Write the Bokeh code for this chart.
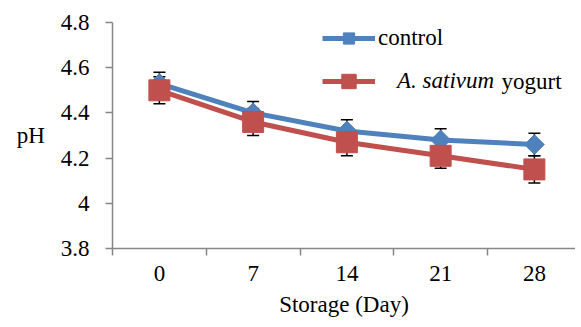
from bokeh.plotting import figure
from bokeh.models import (FixedTicker, Legend, LegendItem, Whisker, ColumnDataSource,
                          TeeHead, Label)
from bokeh.embed import file_html
from bokeh.resources import INLINE
import math

days = ["0", "7", "14", "21", "28"]
control = [4.53, 4.40, 4.32, 4.28, 4.26]
control_err = [0.05, 0.05, 0.05, 0.05, 0.05]
yogurt = [4.50, 4.36, 4.27, 4.21, 4.15]
yogurt_err = [0.06, 0.06, 0.06, 0.055, 0.06]
y_ticks = [3.8, 4.0, 4.2, 4.4, 4.6, 4.8]
y_tick_labels = ["3.8", "4", "4.2", "4.4", "4.6", "4.8"]

xs = list(range(len(days)))
FONT = "Liberation Serif"
FS = "23px"
BLUE = "#4F81BD"
RED = "#C0504D"
GRAY = "#868686"

W, H = 575, 319
LEFT, TOP, BOTTOM = 112, 22, 250
p = figure(width=W, height=H, output_backend="svg", toolbar_location=None,
           x_range=(-0.5, -0.5 + (W - LEFT) / 93.75), y_range=(3.8, 4.8),
           min_border_left=LEFT, min_border_right=0, min_border_top=TOP,
           min_border_bottom=H - BOTTOM)
p.outline_line_color = None
p.xgrid.visible = False
p.ygrid.visible = False

src_c = ColumnDataSource(dict(x=xs, y=control,
                              lo=[v - e for v, e in zip(control, control_err)],
                              hi=[v + e for v, e in zip(control, control_err)]))
src_y = ColumnDataSource(dict(x=xs, y=yogurt,
                              lo=[v - e for v, e in zip(yogurt, yogurt_err)],
                              hi=[v + e for v, e in zip(yogurt, yogurt_err)]))

for src in (src_c, src_y):
    w = Whisker(source=src, base="x", lower="lo", upper="hi", dimension="height",
                line_color="black", line_width=1.5,
                upper_head=TeeHead(size=12, line_color="black", line_width=1.5),
                lower_head=TeeHead(size=12, line_color="black", line_width=1.5),
                level="underlay")
    p.add_layout(w)

lc = p.line("x", "y", source=src_c, line_color=BLUE, line_width=5)
mc = p.scatter("x", "y", source=src_c, marker="square", angle=math.pi / 4, size=14,
               fill_color=BLUE, line_color=BLUE)
ly = p.line("x", "y", source=src_y, line_color=RED, line_width=5)
my = p.scatter("x", "y", source=src_y, marker="square", size=21,
               fill_color=RED, line_color=RED)

leg1 = Legend(items=[LegendItem(label="control", renderers=[lc, mc])],
              location=(210, 196), glyph_width=53, glyph_height=28, label_standoff=3,
              padding=0, margin=0, border_line_color=None, background_fill_alpha=0,
              label_text_font=FONT, label_text_font_size=FS, label_text_color="black")
leg2 = Legend(items=[LegendItem(label="A. sativum", renderers=[ly, my])],
              location=(210, 149), glyph_width=53, glyph_height=36, label_standoff=22,
              padding=0, margin=0, border_line_color=None, background_fill_alpha=0,
              label_text_font=FONT, label_text_font_size=FS, label_text_color="black",
              label_text_font_style="italic")
p.add_layout(leg1)
p.add_layout(leg2)
p.add_layout(Label(x=389, y=167, x_units="screen", y_units="screen", text="yogurt",
                   text_font=FONT, text_font_size=FS, text_baseline="middle",
                   text_color="black"))

xa = p.xaxis[0]
xa.ticker = FixedTicker(ticks=xs, minor_ticks=[i - 0.5 for i in range(len(days))])
xa.major_label_overrides = {i: d for i, d in zip(xs, days)}
xa.major_tick_line_color = None
xa.minor_tick_line_color = GRAY
xa.minor_tick_out = 7
xa.minor_tick_in = 0
xa.minor_tick_line_width = 1.5
xa.axis_line_color = GRAY
xa.axis_line_width = 1.5
xa.major_label_standoff = 10
xa.axis_label = "Storage (Day)"
xa.axis_label_standoff = 8
xa.axis_label_text_font_style = "normal"

ya = p.yaxis[0]
ya.ticker = FixedTicker(ticks=y_ticks, minor_ticks=[])
ya.major_label_overrides = {t: l for t, l in zip(y_ticks, y_tick_labels)}
ya.major_tick_line_color = GRAY
ya.major_tick_line_width = 1.5
ya.major_tick_out = 7
ya.major_tick_in = 0
ya.axis_line_color = GRAY
ya.axis_line_width = 1.5
ya.major_label_standoff = 16
ya.axis_label = "pH"
ya.axis_label_orientation = "horizontal"
ya.axis_label_standoff = 13
ya.axis_label_text_font_style = "normal"

for ax in (xa, ya):
    ax.major_label_text_font = FONT
    ax.major_label_text_font_size = FS
    ax.major_label_text_color = "black"
    ax.axis_label_text_font = FONT
    ax.axis_label_text_font_size = FS
    ax.axis_label_text_color = "black"

open("out.html", "w").write(file_html(p, INLINE))
